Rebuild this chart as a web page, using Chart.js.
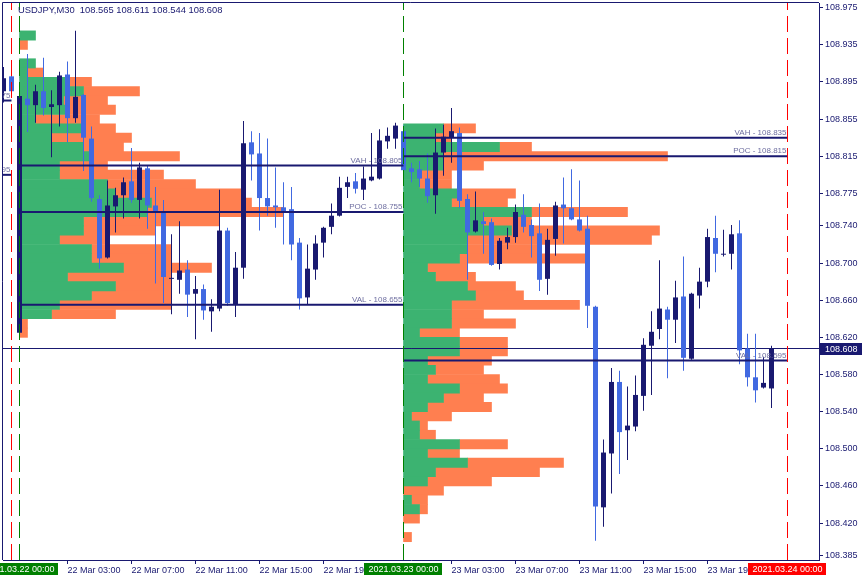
<!DOCTYPE html>
<html>
<head>
<meta charset="utf-8">
<script src="https://cdn.jsdelivr.net/npm/chart.js@4.4.1/dist/chart.umd.min.js"></script>
<style>
  html, body { margin: 0; padding: 0; background: #fff; }
  canvas { display: block; }
</style>
</head>
<body>
<canvas id="chart" width="865" height="581"></canvas>
<script>
// M30 candles, slot 0 = 22 Mar 00:00 (slots -2,-1 are the previous session)
const firstSlot = -2;
const opens  = [108.885,108.901,108.625,108.877,108.870,108.885,108.868,108.870,108.903,108.856,108.881,108.834,108.769,108.706,108.761,108.773,108.788,108.768,108.802,108.762,108.755,108.683,108.682,108.693,108.667,108.672,108.648,108.651,108.735,108.655,108.695,108.830,108.818,108.770,108.762,108.760,108.758,108.722,108.663,108.693,108.722,108.739,108.751,108.782,108.788,108.779,108.789,108.791,108.831,108.834,
                108.842,108.802,108.801,108.791,108.773,108.819,108.835,108.840,108.769,108.734,108.745,108.744,108.699,108.722,108.728,108.752,108.741,108.732,108.683,108.726,108.763,108.759,108.747,108.737,108.653,108.437,108.495,108.572,108.520,108.524,108.557,108.611,108.629,108.650,108.639,108.664,108.597,108.665,108.680,108.727,108.709,108.710,108.732,108.608,108.577,108.566,108.565];
const highs  = [108.911,108.910,108.882,108.925,108.892,108.921,108.886,108.906,108.917,108.950,108.882,108.847,108.773,108.789,108.781,108.792,108.824,108.808,108.805,108.782,108.768,108.731,108.745,108.703,108.686,108.677,108.661,108.779,108.738,108.712,108.853,108.842,108.840,108.834,108.803,108.787,108.782,108.727,108.720,108.730,108.739,108.764,108.793,108.793,108.797,108.804,108.840,108.844,108.846,108.851,
                108.848,108.808,108.810,108.818,108.845,108.849,108.867,108.846,108.774,108.777,108.755,108.748,108.727,108.738,108.763,108.774,108.747,108.764,108.737,108.766,108.792,108.801,108.789,108.751,108.654,108.510,108.587,108.584,108.567,108.579,108.619,108.648,108.703,108.653,108.681,108.707,108.668,108.695,108.737,108.751,108.736,108.741,108.746,108.624,108.624,108.599,108.611];
const lows   = [108.873,108.884,108.623,108.841,108.851,108.859,108.814,108.847,108.830,108.851,108.799,108.766,108.694,108.705,108.733,108.748,108.765,108.748,108.737,108.678,108.657,108.645,108.667,108.642,108.618,108.639,108.626,108.648,108.654,108.642,108.683,108.789,108.735,108.751,108.738,108.720,108.703,108.650,108.656,108.682,108.706,108.731,108.750,108.770,108.775,108.768,108.788,108.790,108.823,108.823,
                108.796,108.787,108.782,108.765,108.753,108.794,108.808,108.759,108.682,108.733,108.710,108.697,108.693,108.715,108.722,108.733,108.706,108.670,108.666,108.708,108.721,108.746,108.734,108.630,108.401,108.416,108.452,108.473,108.488,108.519,108.541,108.558,108.618,108.576,108.614,108.584,108.596,108.651,108.674,108.690,108.707,108.693,108.591,108.567,108.550,108.565,108.544];
const closes = [108.899,108.885,108.880,108.870,108.885,108.867,108.871,108.902,108.856,108.879,108.835,108.770,108.705,108.762,108.773,108.787,108.768,108.803,108.762,108.755,108.685,108.684,108.692,108.666,108.672,108.649,108.653,108.735,108.657,108.695,108.829,108.817,108.770,108.761,108.760,108.756,108.720,108.662,108.694,108.721,108.738,108.751,108.781,108.787,108.780,108.791,108.793,108.832,108.837,108.848,
                108.800,108.798,108.791,108.772,108.819,108.836,108.842,108.767,108.733,108.746,108.742,108.698,108.724,108.728,108.755,108.739,108.729,108.682,108.725,108.762,108.759,108.747,108.735,108.654,108.438,108.496,108.572,108.518,108.525,108.558,108.612,108.626,108.651,108.639,108.663,108.598,108.667,108.680,108.728,108.710,108.710,108.731,108.606,108.577,108.563,108.571,108.608];

// time axis
const xTickSlots  = [6, 14, 22, 30, 38, 54, 62, 70, 78, 86];
const xTickLabels = ['22 Mar 03:00','22 Mar 07:00','22 Mar 11:00','22 Mar 15:00','22 Mar 19:00',
                     '23 Mar 03:00','23 Mar 07:00','23 Mar 11:00','23 Mar 15:00','23 Mar 19:00'];
const daySlots  = [0, 48, 96];
const dayLabels = ['2021.03.22 00:00', '2021.03.23 00:00', '2021.03.24 00:00'];
const dayColors = ['#008000', '#008000', '#ff0000'];
const sepSlots  = [-1, 0, 48, 96];
const sepColors = ['#ff0000', '#008000', '#008000', '#ff0000'];

// price axis
const yTicks = [108.975,108.935,108.895,108.855,108.815,108.775,108.740,108.700,108.660,108.620,108.580,108.540,108.500,108.460,108.420,108.385];
const yMin = 108.3803, yMax = 108.9800;
const lastPrice = 108.608;

// volume profiles (price bin, buy part, rest)
const day1Levels = [108.945,108.935,108.925,108.915,108.905,108.895,108.885,108.875,108.865,108.855,108.845,108.835,108.825,108.815,108.805,108.795,108.785,
                    108.775,108.765,108.755,108.745,108.735,108.725,108.715,108.705,108.695,108.685,108.675,108.665,108.655,108.645,108.635,108.625];
const day1Green  = [2,0,0,2,1,6,8,5.5,6,2,8,4,8,9,5,5,11,12,16.5,16,8,8,5,9,9,13,6,12,9,5,4,0,0];
const day1Orange = [0,1,0,0,2,3,7,5.5,6,8,4,10,5,11,6,13,11,16,12.5,17,17,9,6,10,10,11,13,7,10,14,8,1,1];
const day2Levels = [108.845,108.835,108.825,108.815,108.805,108.795,108.785,108.775,108.765,108.755,108.745,108.735,108.725,108.715,108.705,108.695,108.685,108.675,108.665,108.655,108.645,108.635,108.625,
                    108.615,108.605,108.595,108.585,108.575,108.565,108.555,108.545,108.535,108.525,108.515,108.505,108.495,108.485,108.475,108.465,108.455,108.445,108.435,108.425,108.415,108.405];
const day2Green  = [5,4,12,5,5,2,2,7,6,16,10,13.5,8,8,7,3,4,8,9,6,6,6,2,7,7,3,4,3,7,5,3,1,2,2,7,3,8,4,3,0,1,2,0,0,0];
const day2Orange = [4,2,4,28,5,4,4,7,7,12,6,18.5,23,9,16,5,5,6,6,16,4,8,5,6,6,8,6,9,6,5,8,5,1,2,6,4,12,13,8,5,2,1,2,0,1];

// value area levels
const levelNames = ['VAH', 'POC', 'VAL'];
const day1Value  = [108.805, 108.755, 108.655];
const day2Value  = [108.835, 108.815, 108.595];
const prevNames  = ['VAH', 'POC'];
const prevValue  = [108.875, 108.795];

const symbol = 'USDJPY,M30';

const NAVY = '#191970', BLUE = '#4169e1', GREEN = '#3cb371', CORAL = '#ff7f50';
const FONT = "'Liberation Sans', Arial, sans-serif";

const slots = opens.map((_, i) => firstSlot + i);
const isBull = i => closes[i] >= opens[i];

function profile(levels, green, orange, start, part) {
  const out = [];
  levels.forEach((p, i) => {
    const a = part === 0 ? start : start + green[i];
    const b = part === 0 ? start + green[i] : start + green[i] + orange[i];
    if (b > a) out.push({ y: p, x: [a, b] });
  });
  return out;
}

function profileSet(data, color) {
  return {
    type: 'bar', indexAxis: 'y', xAxisID: 'xp', yAxisID: 'yp', data,
    backgroundColor: color, barPercentage: 1, categoryPercentage: 1, grouped: false, order: 10
  };
}

function hLine(a, b, p, width, order) {
  return {
    type: 'line', data: [{ x: a, y: p }, { x: b, y: p }], borderColor: NAVY, borderWidth: width,
    pointRadius: 0, fill: false, order
  };
}

const datasets = [
  profileSet(profile(day1Levels, day1Green, day1Orange, 0, 0), GREEN),
  profileSet(profile(day1Levels, day1Green, day1Orange, 0, 1), CORAL),
  profileSet(profile(day2Levels, day2Green, day2Orange, 48, 0), GREEN),
  profileSet(profile(day2Levels, day2Green, day2Orange, 48, 1), CORAL),
  hLine(-2.1, 100, lastPrice, 1, 9),
  {
    type: 'bar', data: slots.map((s, i) => ({ x: s, y: [lows[i], highs[i]] })),
    backgroundColor: c => isBull(c.dataIndex) ? NAVY : BLUE,
    maxBarThickness: 1, grouped: false, order: 8
  },
  {
    type: 'bar', data: slots.map((s, i) => ({ x: s, y: [opens[i], closes[i]] })),
    backgroundColor: c => isBull(c.dataIndex) ? NAVY : BLUE,
    maxBarThickness: 5, minBarLength: 1, grouped: false, order: 7
  }
];
day1Value.forEach(p => datasets.push(hLine(0, 48, p, 2, 5)));
day2Value.forEach(p => datasets.push(hLine(48, 96, p, 2, 5)));
prevValue.forEach(p => datasets.push(hLine(-2.1, -1, p, 2, 5)));
sepSlots.forEach((s, i) => datasets.push({
  type: 'line', data: [{ x: s, y: yMin }, { x: s, y: yMax }], borderColor: sepColors[i],
  borderWidth: 1, borderDash: [16, 6], pointRadius: 0, fill: false, order: 4
}));

const overlay = {
  id: 'overlay',
  afterDatasetsDraw(chart) {
    const { ctx, chartArea: a, scales: { x, y } } = chart;
    ctx.save();
    ctx.beginPath();
    ctx.rect(a.left, a.top, a.right - a.left, a.bottom - a.top);
    ctx.clip();
    ctx.font = '8px ' + FONT;
    ctx.fillStyle = '#6e6ea0';
    ctx.textAlign = 'right';
    ctx.textBaseline = 'bottom';
    const put = (names, vals, end) => names.forEach((n, i) =>
      ctx.fillText(n + ' - ' + vals[i].toFixed(3), x.getPixelForValue(end) - 1, y.getPixelForValue(vals[i]) - 1));
    put(levelNames, day1Value, 48);
    put(levelNames, day2Value, 96);
    put(prevNames, prevValue, -1);
    ctx.restore();
  },
  afterDraw(chart) {
    const { ctx, chartArea: a, scales: { x, y } } = chart;
    ctx.save();
    // frame (top / left)
    ctx.strokeStyle = NAVY;
    ctx.lineWidth = 1;
    ctx.beginPath();
    ctx.moveTo(a.left - 0.5, a.bottom);
    ctx.lineTo(a.left - 0.5, a.top - 0.5);
    ctx.lineTo(a.right, a.top - 0.5);
    ctx.stroke();
    // header
    ctx.font = '9.4px ' + FONT;
    ctx.fillStyle = NAVY;
    ctx.textAlign = 'left';
    ctx.textBaseline = 'top';
    const n = opens.length - 1;
    ctx.fillText(symbol + '  ' + [opens[n], highs[n], lows[n], closes[n]].map(v => v.toFixed(3)).join(' '), 18, 6);
    // day separators on the time axis
    ctx.font = '9px ' + FONT;
    ctx.textAlign = 'center';
    ctx.textBaseline = 'middle';
    daySlots.forEach((s, i) => {
      const cx = x.getPixelForValue(s);
      const w = ctx.measureText(dayLabels[i]).width + 8;
      ctx.fillStyle = dayColors[i];
      ctx.fillRect(Math.round(cx - w / 2), 563, Math.round(w), 12);
      ctx.fillStyle = '#ffffff';
      ctx.fillText(dayLabels[i], cx, 569.5);
    });
    // last price box
    const py = y.getPixelForValue(lastPrice);
    ctx.fillStyle = NAVY;
    ctx.fillRect(a.right + 1, Math.round(py) - 6, 42, 12);
    ctx.fillStyle = '#ffffff';
    ctx.textAlign = 'left';
    ctx.fillText(lastPrice.toFixed(3), a.right + 6, Math.round(py) + 0.5);
    ctx.restore();
  }
};

new Chart(document.getElementById('chart'), {
  type: 'bar',
  data: { datasets },
  plugins: [overlay],
  options: {
    responsive: false,
    animation: false,
    events: [],
    layout: { padding: { left: 3, top: 3, right: 0, bottom: 0 } },
    plugins: { legend: { display: false }, tooltip: { enabled: false } },
    scales: {
      x: {
        type: 'linear', position: 'bottom', min: -2.0625, max: 99.9375, offset: false,
        grid: { display: true, drawOnChartArea: false, drawTicks: true, tickLength: 4, color: NAVY, offset: false },
        border: { display: true, color: NAVY },
        ticks: {
          autoSkip: false, maxRotation: 0, minRotation: 0, align: 'start', padding: 1,
          color: NAVY, font: { family: FONT, size: 9 },
          callback: (v, i) => xTickLabels[i]
        },
        afterBuildTicks: s => { s.ticks = xTickSlots.map(v => ({ value: v })); },
        afterFit: s => { s.height = 21; s.paddingLeft = 0; s.paddingRight = 0; }
      },
      y: {
        type: 'linear', position: 'right', min: yMin, max: yMax,
        grid: { display: true, drawOnChartArea: false, drawTicks: true, tickLength: 4, color: NAVY },
        border: { display: true, color: NAVY },
        ticks: {
          autoSkip: false, padding: 2, color: NAVY, font: { family: FONT, size: 9 },
          callback: v => v.toFixed(3)
        },
        afterBuildTicks: s => { s.ticks = yTicks.map(v => ({ value: v })); },
        afterFit: s => { s.width = 46; s.paddingTop = 0; s.paddingBottom = 0; }
      },
      xp: { type: 'linear', display: false, min: -2.0625, max: 99.9375, offset: false,
            afterBuildTicks: s => { s.ticks = []; } },
      yp: { type: 'linear', display: false, min: yMin, max: yMax,
            afterBuildTicks: s => { s.ticks = []; } }
    }
  }
});
</script>
</body>
</html>
